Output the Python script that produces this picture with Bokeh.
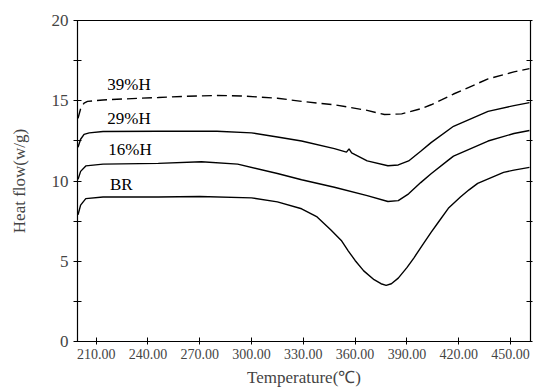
from bokeh.plotting import figure
from bokeh.models import LinearAxis, FixedTicker, Range1d, Label
from bokeh.embed import file_html
from bokeh.resources import INLINE

# ---- data ----
t_39 = [199.5, 201, 203, 205, 214, 234, 246, 260, 280, 294, 315, 329, 348, 367, 377, 387, 398, 404, 410, 417, 437, 452, 461]
v_39 = [13.9, 14.5, 14.85, 14.96, 15.05, 15.15, 15.2, 15.27, 15.33, 15.3, 15.16, 14.96, 14.75, 14.4, 14.14, 14.18, 14.5, 14.75, 15.05, 15.42, 16.36, 16.8, 17.0]

t_29 = [199.5, 201, 203, 206, 214, 246, 280, 300, 315, 329, 348, 355, 356.5, 358, 367, 379, 385, 391, 398, 404, 417, 437, 452, 461]
v_29 = [12.1, 12.6, 12.9, 13.0, 13.08, 13.1, 13.1, 13.0, 12.74, 12.49, 12.02, 11.8, 12.0, 11.75, 11.25, 10.95, 11.0, 11.25, 11.85, 12.39, 13.41, 14.34, 14.7, 14.88]

t_16 = [199.5, 201, 204, 214, 246, 271, 292, 315, 329, 348, 367, 379, 385, 391, 398, 404, 414, 417, 437, 452, 461]
v_16 = [10.1, 10.6, 10.94, 11.05, 11.1, 11.2, 11.05, 10.47, 10.08, 9.61, 9.09, 8.72, 8.78, 9.2, 9.9, 10.45, 11.3, 11.55, 12.49, 12.96, 13.15]

t_br = [199.5, 201, 204, 214, 246, 270, 300, 315, 329, 338, 346, 352, 356, 360, 365, 371, 375, 378, 381, 385, 390, 394, 399, 404, 408, 414, 421, 426, 431, 446, 452, 461]
v_br = [7.9, 8.5, 8.9, 9.0, 9.0, 9.03, 8.95, 8.7, 8.27, 7.76, 6.95, 6.3, 5.65, 5.05, 4.4, 3.85, 3.6, 3.5, 3.6, 3.95, 4.6, 5.2, 6.0, 6.8, 7.4, 8.3, 9.0, 9.45, 9.85, 10.54, 10.68, 10.85]

series_names = ["39%H", "29%H", "16%H", "BR"]
label_x = [216.5, 216.5, 217, 218]
label_y = [16.0, 13.92, 11.94, 9.81]

x_ticks = [210, 240, 270, 300, 330, 360, 390, 420, 450]
y_ticks = [0, 2.5, 5, 7.5, 10, 12.5, 15, 17.5, 20]
y_tick_labels = {0: "0", 2.5: "", 5: "5", 7.5: "", 10: "10", 12.5: "", 15: "15", 17.5: "", 20: "20"}

FONT = "Liberation Serif"

p = figure(width=537, height=389, output_backend="svg", toolbar_location=None,
           x_range=Range1d(199.2, 461.6), y_range=Range1d(0, 20),
           min_border_left=77, min_border_right=7, min_border_top=20, min_border_bottom=45)
p.grid.visible = False
p.outline_line_color = "black"
p.outline_line_width = 1.2
p.background_fill_color = "white"
p.border_fill_color = "white"

p.line(t_39, v_39, line_color="black", line_width=1.4, line_dash="10 5")
p.line(t_29, v_29, line_color="black", line_width=1.4)
p.line(t_16, v_16, line_color="black", line_width=1.4)
p.line(t_br, v_br, line_color="black", line_width=1.4)

for name, lx, ly in zip(series_names, label_x, label_y):
    p.add_layout(Label(x=lx, y=ly, text=name, text_font=FONT, text_font_size="17px",
                       text_baseline="middle", text_align="left", text_color="black"))

xa = p.xaxis[0]
xa.ticker = FixedTicker(ticks=x_ticks)
xa.major_label_overrides = {t: f"{t:.2f}" for t in x_ticks}
xa.axis_label = "Temperature(℃)"
xa.major_tick_in = 4
xa.major_tick_out = 3
xa.minor_tick_line_color = None
xa.major_label_standoff = 4
xa.major_label_text_font = FONT
xa.major_label_text_font_size = "14px"
xa.axis_label_text_font = FONT
xa.axis_label_text_font_size = "17px"
xa.axis_label_text_font_style = "normal"
xa.axis_label_standoff = 6

ya = p.yaxis[0]
ya.ticker = FixedTicker(ticks=y_ticks)
ya.major_label_overrides = y_tick_labels
ya.axis_label = "Heat flow(w/g)"
ya.major_tick_in = 4
ya.major_tick_out = 4
ya.minor_tick_line_color = None
ya.major_label_standoff = 5
ya.major_label_text_font = FONT
ya.major_label_text_font_size = "17px"
ya.axis_label_text_font = FONT
ya.axis_label_text_font_size = "17px"
ya.axis_label_text_font_style = "normal"
ya.axis_label_standoff = 20

ra = LinearAxis(ticker=FixedTicker(ticks=y_ticks),
                major_label_overrides={t: "" for t in y_ticks})
ra.major_tick_in = 4
ra.major_tick_out = 2
ra.minor_tick_line_color = None
ra.major_label_standoff = 0
p.add_layout(ra, "right")

with open("out.html", "w") as f:
    f.write(file_html(p, INLINE))
